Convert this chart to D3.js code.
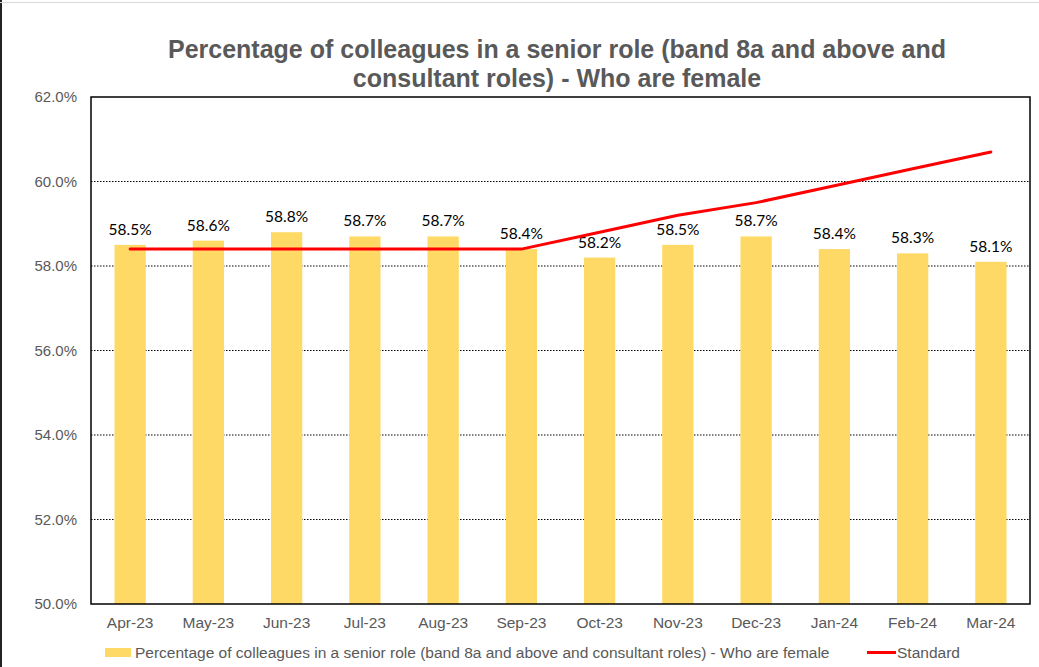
<!DOCTYPE html>
<html>
<head>
<meta charset="utf-8">
<script src="https://cdn.jsdelivr.net/npm/d3@7"></script>
<style>
  body { margin: 0; background: #fff; }
  svg { display: block; }
</style>
</head>
<body>
<svg id="chart" width="1039" height="667"></svg>
<script>
// Monthly share of senior-role colleagues who are female, with the target standard
const months = ["Apr-23","May-23","Jun-23","Jul-23","Aug-23","Sep-23","Oct-23","Nov-23","Dec-23","Jan-24","Feb-24","Mar-24"];
const femaleShare = [58.5, 58.6, 58.8, 58.7, 58.7, 58.4, 58.2, 58.5, 58.7, 58.4, 58.3, 58.1];
const standard = [58.4, 58.4, 58.4, 58.4, 58.4, 58.4, 58.8, 59.2, 59.5, 59.9, 60.3, 60.7];
const yTicks = [50, 52, 54, 56, 58, 60, 62];
const titleLines = ["Percentage of colleagues in a senior role (band 8a and above and", "consultant roles) - Who are female"];
const seriesName = "Percentage of colleagues in a senior role (band 8a and above and consultant roles) - Who are female";
const lineName = "Standard";

const svg = d3.select("#chart");
const W = 1039, H = 667;
const m = { left: 91, right: 1030, top: 97, bottom: 604 };
const font = "'Liberation Sans', Arial, sans-serif";
const labelFont = "Lato, 'Open Sans', sans-serif";
const grey = "#595959";

// Outer frame edges
svg.append("line").attr("x1", 1).attr("x2", 1).attr("y1", 0).attr("y2", H)
  .attr("stroke", "#222").attr("stroke-width", 2);
svg.append("line").attr("x1", 0).attr("x2", W).attr("y1", 2.5).attr("y2", 2.5)
  .attr("stroke", "#d9d9d9").attr("stroke-width", 1);

const x = d3.scaleBand().domain(months).range([m.left, m.right]).paddingInner(0.6).paddingOuter(0.3);
const y = d3.scaleLinear().domain([50, 62]).range([m.bottom, m.top]);

// Title
svg.append("text")
  .attr("x", 557).attr("y", 58)
  .attr("text-anchor", "middle")
  .attr("font-family", font).attr("font-weight", "bold").attr("font-size", 25)
  .attr("fill", grey)
  .selectAll("tspan").data(titleLines).join("tspan")
  .attr("x", 557).attr("dy", (d, i) => i === 0 ? 0 : 29)
  .text(d => d);

// Dotted gridlines
svg.append("g").selectAll("line")
  .data(yTicks.filter(t => t > 50 && t < 62))
  .join("line")
  .attr("x1", m.left).attr("x2", m.right)
  .attr("y1", d => y(d)).attr("y2", d => y(d))
  .attr("stroke", "#000").attr("stroke-width", 1)
  .attr("stroke-dasharray", "1.5,1.5");

// Y axis labels
const yAxis = d3.axisLeft(y).tickValues(yTicks).tickSize(0).tickPadding(14)
  .tickFormat(d => d.toFixed(1) + "%");
svg.append("g").attr("transform", `translate(${m.left},0)`).call(yAxis)
  .call(g => g.select(".domain").remove())
  .selectAll("text")
  .attr("font-family", font).attr("font-size", 15).attr("fill", grey);

// X axis labels
const xAxis = d3.axisBottom(x).tickSize(0).tickPadding(13);
svg.append("g").attr("transform", `translate(0,${m.bottom})`).call(xAxis)
  .call(g => g.select(".domain").remove())
  .selectAll("text")
  .attr("font-family", font).attr("font-size", 15.5).attr("fill", grey);

// Bars
svg.append("g").selectAll("rect")
  .data(femaleShare)
  .join("rect")
  .attr("x", (d, i) => x(months[i]))
  .attr("width", x.bandwidth())
  .attr("y", d => y(d))
  .attr("height", d => y(50) - y(d))
  .attr("fill", "#FFD966");

// Bar value labels
svg.append("g").selectAll("text")
  .data(femaleShare)
  .join("text")
  .attr("x", (d, i) => x(months[i]) + x.bandwidth() / 2)
  .attr("y", d => y(d) - 10)
  .attr("text-anchor", "middle")
  .attr("font-family", labelFont).attr("font-size", 15.5)
  .attr("fill", "#000")
  .text(d => d.toFixed(1) + "%");

// Standard line
const line = d3.line()
  .x((d, i) => x(months[i]) + x.bandwidth() / 2)
  .y(d => y(d));
svg.append("path")
  .datum(standard)
  .attr("d", line)
  .attr("fill", "none")
  .attr("stroke", "#FF0000")
  .attr("stroke-width", 3)
  .attr("stroke-linecap", "round");

// Plot area border
svg.append("rect")
  .attr("x", m.left).attr("y", m.top)
  .attr("width", m.right - m.left).attr("height", m.bottom - m.top)
  .attr("fill", "none").attr("stroke", "#000").attr("stroke-width", 1.5);

// Legend
const lg = svg.append("g").attr("font-family", font).attr("font-size", 15.5).attr("fill", grey);
lg.append("rect").attr("x", 105).attr("y", 648).attr("width", 26).attr("height", 9).attr("fill", "#FFD966");
lg.append("text").attr("x", 135).attr("y", 658).text(seriesName);
lg.append("line").attr("x1", 867).attr("x2", 896).attr("y1", 652.5).attr("y2", 652.5)
  .attr("stroke", "#FF0000").attr("stroke-width", 3);
lg.append("text").attr("x", 897).attr("y", 658).text(lineName);
</script>
</body>
</html>
